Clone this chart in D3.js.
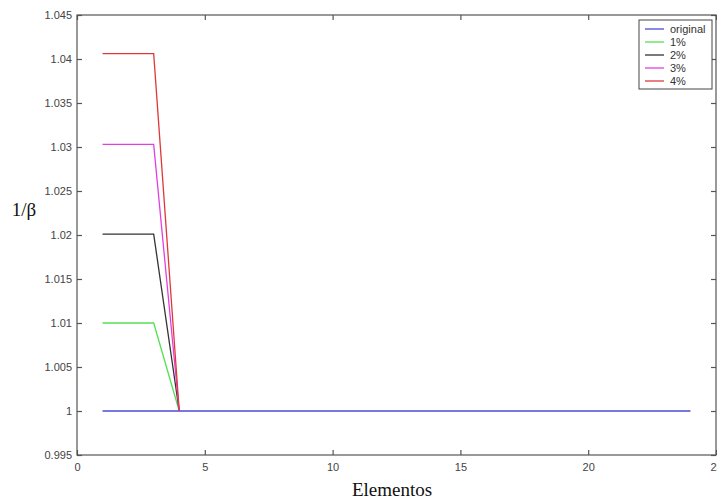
<!DOCTYPE html>
<html><head><meta charset="utf-8">
<script src="https://cdn.jsdelivr.net/npm/d3@7/dist/d3.min.js"></script>
<style>body{margin:0;background:#fff;}svg{display:block;}</style>
</head><body>
<svg id="c" width="717" height="504"></svg>
<script>
const xOriginal = [1,2,3,4,5,6,7,8,9,10,11,12,13,14,15,16,17,18,19,20,21,22,23,24];
const yOriginal = [1,1,1,1,1,1,1,1,1,1,1,1,1,1,1,1,1,1,1,1,1,1,1,1];
const xPert = [1,2,3,4];
const y1 = [1.0100,1.0100,1.0100,1.0000];
const y2 = [1.0201,1.0201,1.0201,1.0000];
const y3 = [1.0303,1.0303,1.0303,1.0000];
const y4 = [1.0406,1.0406,1.0406,1.0000];
const seriesNames = ["original","1%","2%","3%","4%"];
const seriesColors = ["#4a4ad8","#55e055","#333333","#e040e0","#e03838"];
const xTicks = [0,5,10,15,20,25];
const yTicks = [0.995,1,1.005,1.01,1.015,1.02,1.025,1.03,1.035,1.04,1.045];

const series = [
  {name:seriesNames[0], xs:xOriginal, ys:yOriginal, color:seriesColors[0]},
  {name:seriesNames[1], xs:xPert, ys:y1, color:seriesColors[1]},
  {name:seriesNames[2], xs:xPert, ys:y2, color:seriesColors[2]},
  {name:seriesNames[3], xs:xPert, ys:y3, color:seriesColors[3]},
  {name:seriesNames[4], xs:xPert, ys:y4, color:seriesColors[4]}
];

const svg = d3.select("#c");
const L = 77, R = 716, T = 15, B = 455;
const x = d3.scaleLinear().domain([0,25]).range([L,R]);
const y = d3.scaleLinear().domain([0.995,1.045]).range([B,T]);
const axisColor = "#555";
const font = "Arial, 'Liberation Sans', sans-serif";

// box
svg.append("rect").attr("x",L).attr("y",T).attr("width",R-L).attr("height",B-T)
  .attr("fill","#fff").attr("stroke",axisColor).attr("stroke-width",1.2);

// axes
const xAxis = d3.axisBottom(x).tickValues(xTicks).tickSize(-5).tickPadding(8).tickFormat(d3.format("d"));
const gx = svg.append("g").attr("transform",`translate(0,${B})`).call(xAxis);
const yAxis = d3.axisLeft(y).tickValues(yTicks).tickSize(-5).tickPadding(5).tickFormat(d=>String(+d.toFixed(3)));
const gy = svg.append("g").attr("transform",`translate(${L},0)`).call(yAxis);
// mirror ticks top/right
svg.append("g").attr("transform",`translate(0,${T})`).call(d3.axisTop(x).tickValues(xTicks).tickSize(-5).tickFormat(""));
svg.append("g").attr("transform",`translate(${R},0)`).call(d3.axisRight(y).tickValues(yTicks).tickSize(-5).tickFormat(""));
svg.selectAll(".domain").remove();
svg.selectAll(".tick line").attr("stroke",axisColor).attr("stroke-width",1.2);
svg.selectAll(".tick text").attr("fill","#444").style("font-family",font).style("font-size","11px");

// lines
const line = d3.line().x(d=>x(d[0])).y(d=>y(d[1]));
series.forEach(s=>{
  svg.append("path").datum(s.xs.map((v,i)=>[v,s.ys[i]]))
    .attr("d",line).attr("fill","none").attr("stroke",s.color).attr("stroke-width",1.3);
});

// legend
const lg = svg.append("g");
lg.append("rect").attr("x",639).attr("y",20).attr("width",73).attr("height",69)
  .attr("fill","#fff").attr("stroke","#444").attr("stroke-width",1);
series.forEach((s,i)=>{
  const yy = 29 + i*13;
  lg.append("line").attr("x1",645).attr("x2",664).attr("y1",yy).attr("y2",yy)
    .attr("stroke",s.color).attr("stroke-width",1.3);
  lg.append("text").attr("x",670).attr("y",yy+4).text(s.name)
    .style("font-family",font).style("font-size","11px").attr("fill","#333");
});

// labels
svg.append("text").attr("x",392).attr("y",496).attr("text-anchor","middle")
  .text("Elementos").style("font-family","'Liberation Serif','DejaVu Serif',serif").style("font-size","19px").attr("fill","#111");
svg.append("text").attr("x",24).attr("y",216).attr("text-anchor","middle")
  .text("1/β").style("font-family","'Liberation Serif','DejaVu Serif',serif").style("font-size","19px").attr("fill","#111");
</script>
</body></html>
